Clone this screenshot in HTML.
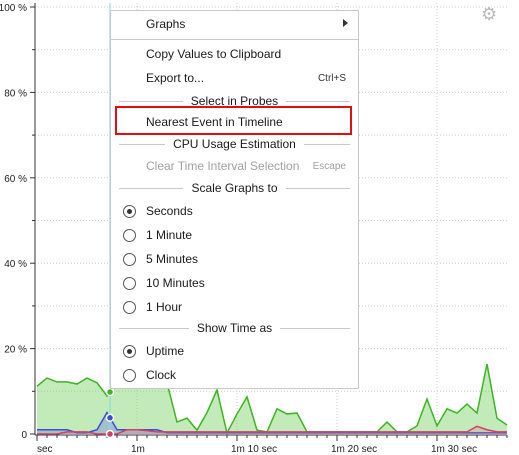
<!DOCTYPE html>
<html><head><meta charset="utf-8"><style>
body{margin:0;width:519px;height:455px;background:#fff;overflow:hidden;font-family:"Liberation Sans",sans-serif;position:relative}
svg{position:absolute;left:0;top:0}
#menu{position:absolute;left:110px;top:10px;width:247px;height:377px;background:#fff;border:1px solid #c8c8c8;font-size:12px;color:#1a1a1a}
.it{position:absolute;left:35px;white-space:nowrap}
.hd{position:absolute;left:0;width:247px;text-align:center}
.hd span{background:#fff;padding:0 8px;position:relative}
.hd:before{content:"";position:absolute;left:8px;right:8px;top:50%;border-top:1px solid #c8c8c8}
.sep{position:absolute;left:0;width:247px;border-top:1px solid #c8c8c8}
.rad{position:absolute;left:12px;width:11px;height:11px;border:1px solid #555;border-radius:50%}
.rad.on:after{content:"";position:absolute;left:3px;top:3px;width:5px;height:5px;border-radius:50%;background:#333}
.sc{position:absolute;right:12px;font-size:10px;color:#333}
</style></head><body>
<svg id="chart" width="519" height="455"></svg>
<div id="menu">
<div class="it" style="top:6px">Graphs</div>
<div style="position:absolute;right:10px;top:8px;width:0;height:0;border-left:5px solid #333;border-top:4px solid transparent;border-bottom:4px solid transparent"></div>
<div class="sep" style="top:28px"></div>
<div class="it" style="top:36px">Copy Values to Clipboard</div>
<div class="it" style="top:60px">Export to...</div>
<div class="sc" style="top:62px">Ctrl+S</div>
<div class="hd" style="top:83px"><span>Select in Probes</span></div>
<div class="it" style="top:104px">Nearest Event in Timeline</div>
<div style="position:absolute;left:4px;top:95px;width:233px;height:25px;border:2px solid #e01010"></div>
<div class="hd" style="top:126px"><span>CPU Usage Estimation</span></div>
<div class="it" style="top:148px;color:#a0a0a0">Clear Time Interval Selection</div>
<div class="sc" style="top:150px;color:#a0a0a0">Escape</div>
<div class="hd" style="top:170px"><span>Scale Graphs to</span></div>
<div class="rad on" style="top:194px"></div><div class="it" style="top:193px">Seconds</div>
<div class="rad" style="top:218px"></div><div class="it" style="top:217px">1 Minute</div>
<div class="rad" style="top:242px"></div><div class="it" style="top:241px">5 Minutes</div>
<div class="rad" style="top:266px"></div><div class="it" style="top:265px">10 Minutes</div>
<div class="rad" style="top:290px"></div><div class="it" style="top:289px">1 Hour</div>
<div class="hd" style="top:310px"><span>Show Time as</span></div>
<div class="rad on" style="top:334px"></div><div class="it" style="top:333px">Uptime</div>
<div class="rad" style="top:358px"></div><div class="it" style="top:357px">Clock</div>
</div>
<div style="position:absolute;left:481px;top:4px;font-size:18px;color:#bbb">⚙</div>
<script>
const times=[50,51,52,53,54,55,56,57,58,59,60,61,62,63,64,65,66,67,68,69,70,71,72,73,74,75,76,77,78,79,80,81,82,83,84,85,86,87,88,89,90,91,92,93,94,95,96,97];
const green=[11.2,13.1,12.2,12.2,11.7,13.1,12,8.9,12,12,12,12,12,12,2.8,3.7,0.9,5,10.3,0.2,4.7,8.7,0.9,0.5,5.9,4.7,4.9,0.5,0.5,0.5,0.5,0.5,0.5,0.5,0.5,2.8,0.5,0.5,1.9,8.2,1.9,5.9,4.9,7,4.9,16.4,3.7,2.1];
const blue=[1,1,1,1,0.3,0.3,1,5,1,1,1,1,1,0.3,0.3,0.3,0.3,0.3,0.3,0.3,0.3,0.3,0.3,0.3,0.3,0.3,0.3,0.3,0.3,0.3,0.3,0.3,0.3,0.3,0.3,0.3,0.3,0.3,0.3,0.3,0.3,0.3,0.3,0.3,0.3,0.3,0.3,0.3];
const red=[0,0,0,0.5,0.5,0.5,0,0,0,1,1,0.8,0.5,0.5,0.5,0.5,0.5,0.5,0.5,0.5,0.5,0.5,0.5,0.5,0.5,0.5,0.5,0.5,0.5,0.5,0.5,0.5,0.5,0.5,0.5,0.5,0.5,0.5,0.5,0.5,0.5,0.5,0.5,0.5,1.8,1,0.5,0.5];
const yTicks=[0,20,40,60,80,100];
const yLabels=["0","20 %","40 %","60 %","80 %","100 %"];
const xTicks=[50,60,70,80,90];
const xLabels=["sec","1m","1m 10 sec","1m 20 sec","1m 30 sec"];
const cursorT=57.3;
const X=t=>37+(t-50)*10, Y=v=>434-4.27*v;
const svg=document.getElementById('chart');const NS='http://www.w3.org/2000/svg';
function mk(tag,attrs,name){const e=document.createElementNS(NS,tag);for(const k in attrs)e.setAttribute(k,attrs[k]);


svg.appendChild(e);return e;}
for(let v=10;v<=100;v+=10){mk('line',{x1:35,x2:507,y1:Y(v),y2:Y(v),stroke:'#ccc','stroke-dasharray':'1,2'},'h-grid');}
for(let i=1;i<xTicks.length;i++){mk('line',{x1:X(xTicks[i]),x2:X(xTicks[i]),y1:3,y2:434,stroke:'#ccc','stroke-dasharray':'1,2'},'v-grid');}
mk('line',{x1:35,x2:35,y1:3,y2:435,stroke:'#333'},'y-axis');
mk('line',{x1:35,x2:507,y1:435,y2:435,stroke:'#333'},'x-axis');
yTicks.forEach((v,i)=>{mk('line',{x1:30,x2:35,y1:Y(v),y2:Y(v),stroke:'#333'},'y-tick');
const t=mk('text',{x:27,y:Y(v)+4,'text-anchor':'end','font-size':'10',fill:'#222'},'y-tick-label');t.textContent=yLabels[i];});
for(let v=10;v<100;v+=20){mk('line',{x1:32,x2:35,y1:Y(v),y2:Y(v),stroke:'#333'},'y-minor-tick');}
for(let t=50;t<=97;t++){const major=(t%10===0);mk('line',{x1:X(t),x2:X(t),y1:435,y2:major?441:438,stroke:'#333'},'x-tick');}
xTicks.forEach((t,i)=>{const e=mk('text',{x:i==0?X(t):X(t)-6,y:452,'font-size':'10',fill:'#222'},'x-tick-label');e.textContent=xLabels[i];});
function series(vals,fill,stroke,name){let p=times.map((t,i)=>X(t)+','+Y(vals[i])).join(' ');
mk('polygon',{points:X(times[0])+','+Y(0)+' '+p+' '+X(times[times.length-1])+','+Y(0),fill:fill},name+'-area');
mk('polyline',{points:p,fill:'none',stroke:stroke,'stroke-width':1.5},name+'-line');}
series(green,'rgba(120,210,100,0.45)','#3cb521','green-series');
series(blue,'rgba(120,130,230,0.4)','#3a4fd0','blue-series');
series(red,'rgba(230,120,150,0.3)','#d0406a','red-series');
mk('line',{x1:X(cursorT),x2:X(cursorT),y1:3,y2:435,stroke:'#7fd8e8'},'cursor-line');
function interp(a){const i=Math.floor(cursorT-50),f=cursorT-50-i;return a[i]+(a[i+1]-a[i])*f;}
[[green,'#3cb521'],[blue,'#3a4fd0'],[red,'#d0406a']].forEach(([a,c])=>{mk('circle',{cx:X(cursorT),cy:Y(interp(a)),r:3.5,fill:c,stroke:'#fff','stroke-width':1.5},'cursor-marker');});
</script>
</body></html>
